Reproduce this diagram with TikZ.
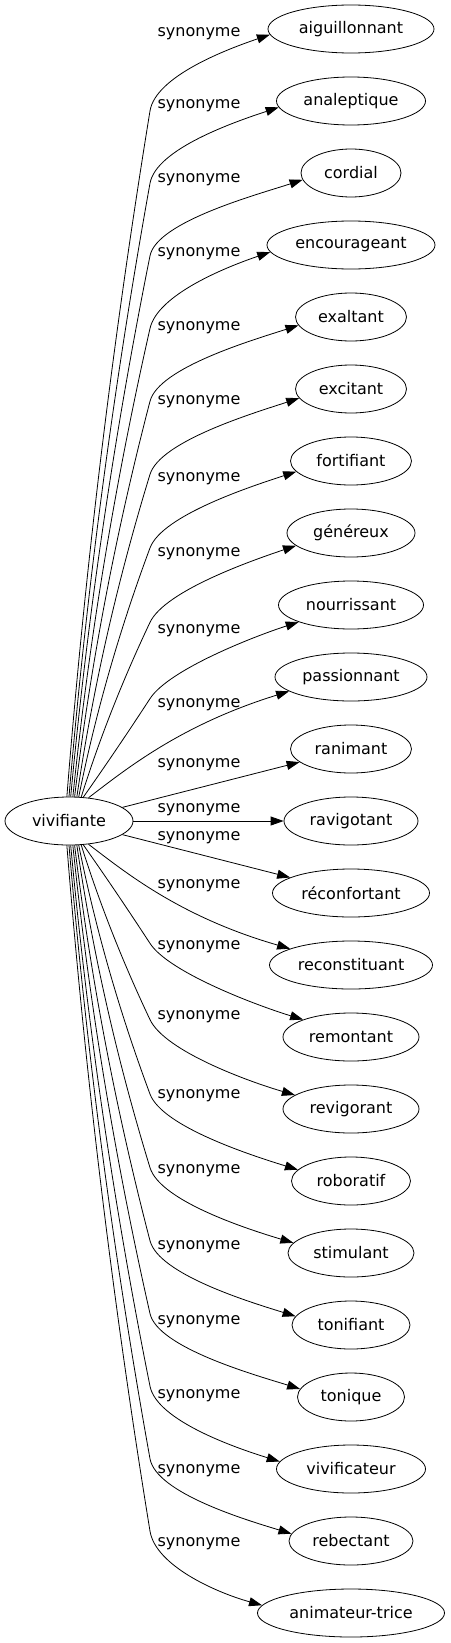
\documentclass[tikz,border=0pt]{standalone}
\usepackage{fontspec}
\setmainfont{DejaVu Sans}
\usetikzlibrary{arrows.meta,shapes.geometric}

\tikzset{
  mot/.style={ellipse, draw, line width=0.8pt, minimum height=48pt, inner sep=2pt, font=\fontsize{16}{19}\selectfont},
  syn/.style={-{Triangle[length=13pt,width=9pt]}, line width=0.8pt},
  etiq/.style={font=\fontsize{16}{19}\selectfont, inner sep=0pt},
}

\begin{document}
\begin{tikzpicture}[x=1pt, y=-1pt]
        \useasboundingbox (0,0) rectangle (450,1643);

        % Nodes
        \node[mot, minimum width=128pt] (viv) at (69, 821) {vivifiante};
        \foreach \i/\nom/\txt/\w in {0/aiguillonnant/aiguillonnant/166, 1/analeptique/analeptique/149,
            2/cordial/cordial/100, 3/encourageant/encourageant/168, 4/exaltant/exaltant/111,
            5/excitant/excitant/111, 6/fortifiant/fortifiant/121, 7/genereux/généreux/128,
            8/nourrissant/nourrissant/145, 9/passionnant/passionnant/152, 10/ranimant/ranimant/121,
            11/ravigotant/ravigotant/134, 12/reconfortant/réconfortant/157, 13/reconstituant/reconstituant/163,
            14/remontant/remontant/136, 15/revigorant/revigorant/136, 16/roboratif/roboratif/119,
            17/stimulant/stimulant/126, 18/tonifiant/tonifiant/118, 19/tonique/tonique/107,
            20/vivificateur/vivificateur/149, 21/rebectant/rebectant/124, 22/animateur/animateur-trice/187}
            \node[mot, minimum width=\w pt] (\nom) at (351, 29+72*\i) {\txt};

        % Arrows going up
        \foreach \i/\nom/\w in {0/aiguillonnant/166, 1/analeptique/149, 2/cordial/100, 3/encourageant/168,
            4/exaltant/111, 5/excitant/111, 6/fortifiant/121, 7/genereux/128, 8/nourrissant/145} {
            \pgfmathsetmacro{\yt}{29+72*\i}
            \pgfmathsetmacro{\dist}{797-\yt}
            \pgfmathtruncatemacro{\ang}{95-4.5*\i}
            \pgfmathsetmacro{\rad}{1/sqrt((cos(\ang)/64)^2+(sin(\ang)/24)^2)}
            \pgfmathsetmacro{\sx}{69+\rad*cos(\ang)}
            \pgfmathsetmacro{\sy}{821-\rad*sin(\ang)}
            \pgfmathsetmacro{\by}{\yt+78+3000/\dist}
            \pgfmathsetmacro{\slope}{125/\dist}
            \pgfmathsetmacro{\len}{(\sy-\by)/3}
            \pgfmathsetmacro{\mstart}{max(2*(150-\sx)/(\sy-\by)-\slope,0.05)}
            \pgfmathsetmacro{\nrm}{sqrt(1+\slope*\slope)}
            \pgfmathsetmacro{\tdy}{3+2700/\dist}
            \pgfmathsetmacro{\tx}{\w/2*sqrt(1-(\tdy/24)^2)}
            \pgfmathtruncatemacro{\ea}{180+atan(\tdy/\tx)}
            \draw[syn] (viv.\ang) .. controls (\sx+\len*\mstart, \sy-\len) and (150-\len*\slope, \by+\len) .. (150, \by)
                .. controls (150+35*\slope/\nrm, \by-35/\nrm) and (351-\tx-45, \yt+\tdy+14) .. (\nom.\ea);
        }
        \draw[syn] (viv.50) .. controls (125, 770) and (180, 725) .. (passionnant.193);

        % Arrows going down
        \foreach \i/\nom/\w in {14/remontant/136, 15/revigorant/136, 16/roboratif/119, 17/stimulant/126,
            18/tonifiant/118, 19/tonique/107, 20/vivificateur/149, 21/rebectant/124, 22/animateur/187} {
            \pgfmathsetmacro{\yt}{29+72*\i}
            \pgfmathsetmacro{\dist}{\yt-845}
            \pgfmathtruncatemacro{\ang}{-(95-4.5*(22-\i))}
            \pgfmathsetmacro{\rad}{1/sqrt((cos(\ang)/64)^2+(sin(\ang)/24)^2)}
            \pgfmathsetmacro{\sx}{69+\rad*cos(\ang)}
            \pgfmathsetmacro{\sy}{821-\rad*sin(\ang)}
            \pgfmathsetmacro{\by}{\yt-78-3000/\dist}
            \pgfmathsetmacro{\slope}{125/\dist}
            \pgfmathsetmacro{\len}{(\by-\sy)/3}
            \pgfmathsetmacro{\mstart}{max(2*(150-\sx)/(\by-\sy)-\slope,0.05)}
            \pgfmathsetmacro{\nrm}{sqrt(1+\slope*\slope)}
            \pgfmathsetmacro{\tdy}{3+2700/\dist}
            \pgfmathsetmacro{\tx}{\w/2*sqrt(1-(\tdy/24)^2)}
            \pgfmathtruncatemacro{\ea}{180-atan(\tdy/\tx)}
            \draw[syn] (viv.\ang) .. controls (\sx+\len*\mstart, \sy+\len) and (150-\len*\slope, \by-\len) .. (150, \by)
                .. controls (150+35*\slope/\nrm, \by+35/\nrm) and (351-\tx-45, \yt-\tdy-14) .. (\nom.\ea);
        }
        \draw[syn] (viv.-50) .. controls (125, 872) and (180, 917) .. (reconstituant.165);

        % Straight arrows
        \draw[syn] (viv) -- (ranimant);
        \draw[syn] (viv) -- (ravigotant);
        \draw[syn] (viv) -- (reconfortant);

        % Labels
        \foreach \i/\ly in {0/34, 1/106, 2/180, 3/254, 4/328, 5/402, 6/479, 7/554, 8/631, 9/705,
            10/765, 11/810, 12/838, 13/886, 14/947, 15/1017, 16/1096, 17/1171, 18/1247,
            19/1322, 20/1396, 21/1471, 22/1544}
            \node[etiq] (lab\i) at (199, \ly) {synonyme};
\end{tikzpicture}
\end{document}
